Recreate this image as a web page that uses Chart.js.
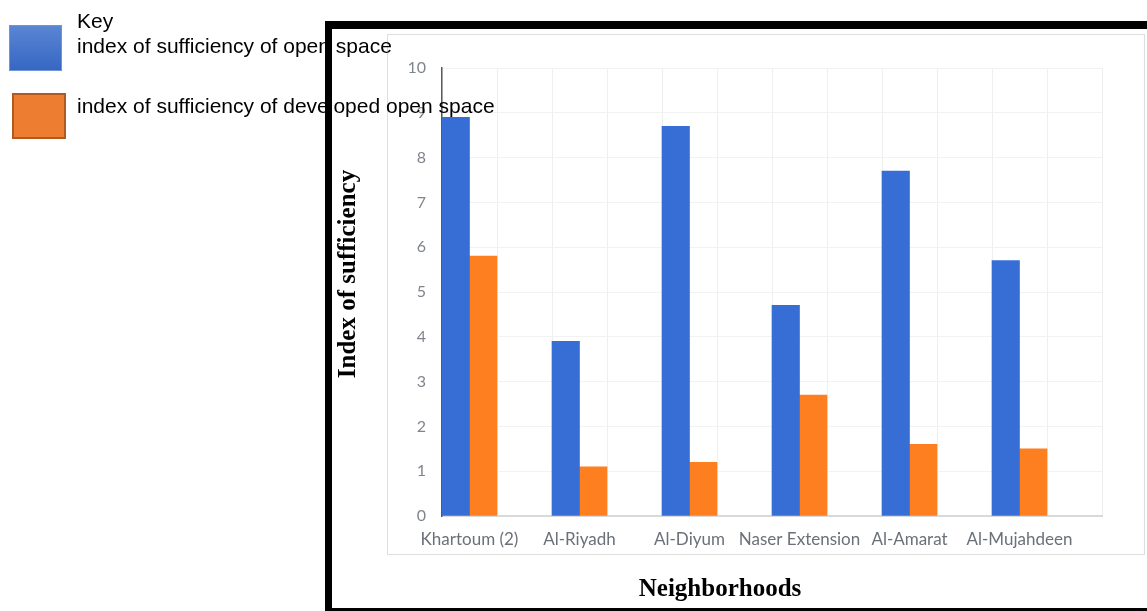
<!DOCTYPE html>
<html>
<head>
<meta charset="utf-8">
<title>Index of sufficiency by neighborhood</title>
<script src="https://cdn.jsdelivr.net/npm/chart.js@4.4.1/dist/chart.umd.min.js"></script>
<style>
  html, body { margin: 0; padding: 0; background: #fff; }
  #wrap { width: 1147px; height: 611px; position: relative; }
</style>
</head>
<body>
<div id="wrap"><canvas id="barChart" width="1147" height="611"></canvas></div>
<script>
// values
const neighborhoods = ['Khartoum (2)', 'Al-Riyadh', 'Al-Diyum', 'Naser Extension', 'Al-Amarat', 'Al-Mujahdeen'];
const openSpace      = [8.9, 3.9, 8.7, 4.7, 7.7, 5.7];
const developedSpace = [5.8, 1.1, 1.2, 2.7, 1.6, 1.5];
const seriesNames = ['index of sufficiency of open space', 'index of sufficiency of developed open space'];
const yTicks = [0, 1, 2, 3, 4, 5, 6, 7, 8, 9, 10];

const BLUE = '#376ed6';
const ORANGE = '#fd7f20';

// every neighborhood gets a bar slot followed by an empty slot (the gap in the original)
const slotLabels = neighborhoods.flatMap(n => [n, '']);
const padGap = arr => arr.flatMap(v => [v, null]);

const decor = {
  id: 'decor',
  beforeDraw(chart) {
    const c = chart.ctx;
    c.save();
    c.strokeStyle = '#dedede';
    c.lineWidth = 1;
    c.strokeRect(387.5, 34.5, 757, 520);
    c.restore();
  },
  afterDraw(chart) {
    const c = chart.ctx;
    c.save();
    // axis titles
    c.fillStyle = '#000';
    c.font = 'bold 25px "Liberation Serif", "Times New Roman", serif';
    c.textAlign = 'center';
    c.textBaseline = 'middle';
    c.fillText('Neighborhoods', 720, 590);
    c.translate(349, 274);
    c.rotate(-Math.PI / 2);
    c.fillText('Index of sufficiency', 0, 0);
    c.restore();

    // key
    c.save();
    const g = c.createLinearGradient(0, 25, 0, 71);
    g.addColorStop(0, '#5b86d4');
    g.addColorStop(1, '#3566c2');
    c.fillStyle = g;
    c.fillRect(9, 25, 53, 46);
    c.strokeStyle = '#6f95d8';
    c.lineWidth = 1;
    c.strokeRect(9.5, 25.5, 52, 45);
    c.fillStyle = '#ed7d31';
    c.fillRect(12, 93, 54, 46);
    c.strokeStyle = '#ae5a21';
    c.lineWidth = 2;
    c.strokeRect(13, 94, 52, 44);
    c.fillStyle = '#000';
    c.font = '21px "Liberation Sans", Arial, sans-serif';
    c.textAlign = 'left';
    c.textBaseline = 'alphabetic';
    c.fillText('Key', 77, 28);
    c.fillText(seriesNames[0], 77, 53);
    c.fillText(seriesNames[1], 77, 113);

    // black picture frame
    c.fillStyle = '#000';
    c.fillRect(325, 21, 822, 8);
    c.fillRect(325, 21, 7, 590);
    c.fillRect(325, 608, 822, 3);
    c.restore();
  }
};

new Chart(document.getElementById('barChart'), {
  type: 'bar',
  data: {
    labels: slotLabels,
    datasets: [
      { label: seriesNames[0], data: padGap(openSpace), backgroundColor: BLUE },
      { label: seriesNames[1], data: padGap(developedSpace), backgroundColor: ORANGE }
    ]
  },
  options: {
    responsive: false,
    devicePixelRatio: 1,
    animation: false,
    layout: { padding: { left: 330, top: 68, right: 45, bottom: 0 } },
    datasets: { bar: { barPercentage: 1, categoryPercentage: 1 } },
    plugins: { legend: { display: false }, tooltip: { enabled: false } },
    scales: {
      x: {
        grid: { color: '#efefef', drawTicks: false, offset: true },
        border: { color: '#d9d9d9', width: 2 },
        ticks: {
          autoSkip: false, maxRotation: 0, minRotation: 0, padding: 13,
          color: '#6b7079', font: { family: 'Lato', size: 17 }
        },
        afterFit(s) { s.height = 95; }
      },
      y: {
        min: 0, max: 10,
        afterBuildTicks(s) { s.ticks = yTicks.map(v => ({ value: v })); },
        grid: { color: '#f2f2f2', drawTicks: false },
        border: { color: '#5a5a5a', width: 1.5 },
        ticks: { padding: 16, color: '#80858d', font: { family: 'Lato', size: 16 } },
        afterFit(s) { s.width = 112; }
      }
    }
  },
  plugins: [decor]
});
</script>
</body>
</html>
